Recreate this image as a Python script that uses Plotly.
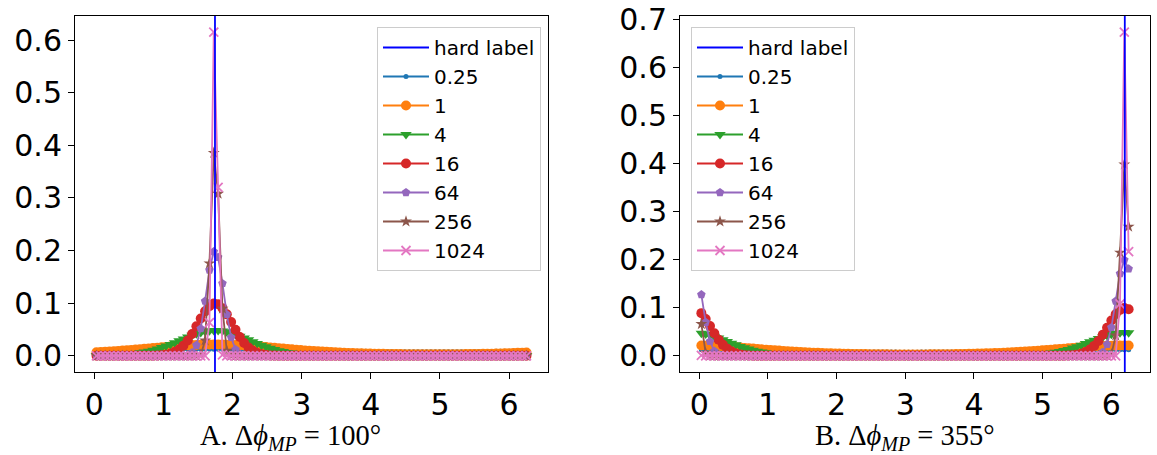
import numpy as np
import plotly.graph_objects as go
from plotly.subplots import make_subplots

# angle bins: 100 bins of 3.6 degrees, centre of each bin
n_bins = 100
bin_deg = 1.8 + 3.6 * np.arange(n_bins)
angle = np.deg2rad(bin_deg)

hard_label_deg = [100, 355]
captions = ["A. Δ<i>ϕ</i><sub><i>MP</i></sub> = 100°",
            "B. Δ<i>ϕ</i><sub><i>MP</i></sub> = 355°"]
temps = ["0.25", "1", "4", "16", "64", "256", "1024"]

# ---- panel A (hard label at 100 deg) ----
a_t025 = [
    0.00950, 0.00965, 0.00981, 0.00996, 0.01012, 0.01028, 0.01044, 0.01060, 0.01076, 0.01092,
    0.01107, 0.01123, 0.01138, 0.01152, 0.01166, 0.01179, 0.01191, 0.01203, 0.01214, 0.01224,
    0.01233, 0.01240, 0.01247, 0.01253, 0.01257, 0.01261, 0.01263, 0.01264, 0.01264, 0.01263,
    0.01260, 0.01255, 0.01251, 0.01244, 0.01237, 0.01228, 0.01219, 0.01209, 0.01197, 0.01185,
    0.01173, 0.01160, 0.01145, 0.01131, 0.01116, 0.01101, 0.01085, 0.01069, 0.01053, 0.01037,
    0.01021, 0.01005, 0.00989, 0.00974, 0.00958, 0.00944, 0.00929, 0.00915, 0.00903, 0.00889,
    0.00876, 0.00864, 0.00853, 0.00842, 0.00832, 0.00823, 0.00814, 0.00806, 0.00799, 0.00793,
    0.00787, 0.00782, 0.00778, 0.00774, 0.00771, 0.00769, 0.00768, 0.00767, 0.00767, 0.00768,
    0.00770, 0.00772, 0.00776, 0.00780, 0.00785, 0.00790, 0.00796, 0.00803, 0.00810, 0.00818,
    0.00827, 0.00836, 0.00846, 0.00857, 0.00869, 0.00881, 0.00894, 0.00907, 0.00920, 0.00935,
]
a_t1 = [
    0.00685, 0.00729, 0.00776, 0.00826, 0.00880, 0.00936, 0.00996, 0.01058, 0.01123, 0.01190,
    0.01259, 0.01330, 0.01402, 0.01474, 0.01546, 0.01618, 0.01688, 0.01755, 0.01820, 0.01881,
    0.01937, 0.01988, 0.02033, 0.02071, 0.02102, 0.02125, 0.02140, 0.02147, 0.02145, 0.02134,
    0.02116, 0.02089, 0.02055, 0.02014, 0.01966, 0.01913, 0.01854, 0.01792, 0.01726, 0.01657,
    0.01586, 0.01514, 0.01442, 0.01370, 0.01298, 0.01228, 0.01160, 0.01094, 0.01030, 0.00969,
    0.00911, 0.00856, 0.00804, 0.00755, 0.00709, 0.00666, 0.00626, 0.00590, 0.00556, 0.00524,
    0.00495, 0.00469, 0.00445, 0.00423, 0.00403, 0.00386, 0.00370, 0.00355, 0.00343, 0.00332,
    0.00322, 0.00314, 0.00307, 0.00301, 0.00297, 0.00294, 0.00292, 0.00291, 0.00291, 0.00292,
    0.00295, 0.00299, 0.00304, 0.00310, 0.00317, 0.00326, 0.00336, 0.00348, 0.00361, 0.00377,
    0.00393, 0.00412, 0.00433, 0.00455, 0.00481, 0.00508, 0.00538, 0.00570, 0.00606, 0.00644,
]
a_t4 = [
    0.00050, 0.00064, 0.00083, 0.00106, 0.00136, 0.00175, 0.00224, 0.00285, 0.00361, 0.00456,
    0.00572, 0.00711, 0.00878, 0.01073, 0.01300, 0.01557, 0.01845, 0.02159, 0.02495, 0.02847,
    0.03203, 0.03553, 0.03885, 0.04185, 0.04440, 0.04638, 0.04769, 0.04830, 0.04811, 0.04719,
    0.04557, 0.04332, 0.04056, 0.03741, 0.03399, 0.03045, 0.02689, 0.02344, 0.02016, 0.01713,
    0.01439, 0.01195, 0.00983, 0.00800, 0.00646, 0.00517, 0.00412, 0.00325, 0.00256, 0.00201,
    0.00157, 0.00122, 0.00095, 0.00074, 0.00057, 0.00045, 0.00035, 0.00027, 0.00022, 0.00017,
    0.00014, 0.00011, 0.00009, 0.00007, 0.00006, 0.00005, 0.00004, 0.00003, 0.00003, 0.00003,
    0.00002, 0.00002, 0.00002, 0.00002, 0.00002, 0.00002, 0.00002, 0.00002, 0.00002, 0.00002,
    0.00002, 0.00002, 0.00002, 0.00002, 0.00002, 0.00003, 0.00003, 0.00003, 0.00004, 0.00004,
    0.00005, 0.00006, 0.00008, 0.00010, 0.00012, 0.00015, 0.00019, 0.00024, 0.00031, 0.00039,
]
a_t16 = [
    0, 0, 0, 0, 0, 0, 0, 0, 0, 0,
    0, 0, 0.0001, 0.0002, 0.0005, 0.0011, 0.0021, 0.0040, 0.0071, 0.0120,
    0.0192, 0.0291, 0.0416, 0.0560, 0.0710, 0.0845, 0.0945, 0.0993, 0.0979, 0.0906,
    0.0788, 0.0644, 0.0495, 0.0358, 0.0244, 0.0157, 0.0096, 0.0055, 0.0030, 0.0016,
    0.0008, 0.0004, 0.0002, 0.0001, 0, 0, 0, 0, 0, 0,
    0, 0, 0, 0, 0, 0, 0, 0, 0, 0,
    0, 0, 0, 0, 0, 0, 0, 0, 0, 0,
    0, 0, 0, 0, 0, 0, 0, 0, 0, 0,
    0, 0, 0, 0, 0, 0, 0, 0, 0, 0,
    0, 0, 0, 0, 0, 0, 0, 0, 0, 0,
]
a_t64 = [
    0, 0, 0, 0, 0, 0, 0, 0, 0, 0,
    0, 0, 0, 0, 0, 0, 0, 0, 0, 0,
    0.0003, 0.0015, 0.0061, 0.0201, 0.0517, 0.1040, 0.1628, 0.1982, 0.1873, 0.1376,
    0.0786, 0.0350, 0.0122, 0.0033, 0.0007, 0.0001, 0, 0, 0, 0,
    0, 0, 0, 0, 0, 0, 0, 0, 0, 0,
    0, 0, 0, 0, 0, 0, 0, 0, 0, 0,
    0, 0, 0, 0, 0, 0, 0, 0, 0, 0,
    0, 0, 0, 0, 0, 0, 0, 0, 0, 0,
    0, 0, 0, 0, 0, 0, 0, 0, 0, 0,
    0, 0, 0, 0, 0, 0, 0, 0, 0, 0,
]
a_t256 = [
    0, 0, 0, 0, 0, 0, 0, 0, 0, 0,
    0, 0, 0, 0, 0, 0, 0, 0, 0, 0,
    0, 0, 0, 0, 0.0018, 0.0293, 0.1757, 0.3856, 0.3080, 0.0897,
    0.0096, 0.0004, 0, 0, 0, 0, 0, 0, 0, 0,
    0, 0, 0, 0, 0, 0, 0, 0, 0, 0,
    0, 0, 0, 0, 0, 0, 0, 0, 0, 0,
    0, 0, 0, 0, 0, 0, 0, 0, 0, 0,
    0, 0, 0, 0, 0, 0, 0, 0, 0, 0,
    0, 0, 0, 0, 0, 0, 0, 0, 0, 0,
    0, 0, 0, 0, 0, 0, 0, 0, 0, 0,
]
a_t1024 = [
    0, 0, 0, 0, 0, 0, 0, 0, 0, 0,
    0, 0, 0, 0, 0, 0, 0, 0, 0, 0,
    0, 0, 0, 0, 0, 0, 0.063, 0.615, 0.320, 0.002,
    0, 0, 0, 0, 0, 0, 0, 0, 0, 0,
    0, 0, 0, 0, 0, 0, 0, 0, 0, 0,
    0, 0, 0, 0, 0, 0, 0, 0, 0, 0,
    0, 0, 0, 0, 0, 0, 0, 0, 0, 0,
    0, 0, 0, 0, 0, 0, 0, 0, 0, 0,
    0, 0, 0, 0, 0, 0, 0, 0, 0, 0,
    0, 0, 0, 0, 0, 0, 0, 0, 0, 0,
]

# ---- panel B (hard label at 355 deg) ----
b_t025 = [
    0.01262, 0.01260, 0.01256, 0.01250, 0.01243, 0.01235, 0.01227, 0.01217, 0.01207, 0.01195,
    0.01183, 0.01170, 0.01156, 0.01143, 0.01128, 0.01113, 0.01097, 0.01082, 0.01066, 0.01050,
    0.01034, 0.01018, 0.01003, 0.00987, 0.00971, 0.00956, 0.00941, 0.00927, 0.00913, 0.00900,
    0.00886, 0.00874, 0.00862, 0.00851, 0.00840, 0.00830, 0.00821, 0.00813, 0.00805, 0.00798,
    0.00792, 0.00786, 0.00781, 0.00777, 0.00774, 0.00771, 0.00769, 0.00768, 0.00767, 0.00767,
    0.00768, 0.00770, 0.00773, 0.00776, 0.00780, 0.00785, 0.00791, 0.00797, 0.00804, 0.00812,
    0.00820, 0.00829, 0.00839, 0.00849, 0.00860, 0.00872, 0.00884, 0.00896, 0.00909, 0.00923,
    0.00937, 0.00952, 0.00968, 0.00983, 0.00999, 0.01015, 0.01031, 0.01047, 0.01063, 0.01078,
    0.01094, 0.01109, 0.01124, 0.01139, 0.01153, 0.01166, 0.01179, 0.01192, 0.01203, 0.01214,
    0.01223, 0.01232, 0.01240, 0.01246, 0.01252, 0.01257, 0.01260, 0.01263, 0.01264, 0.01264,
]
b_t1 = [
    0.02132, 0.02112, 0.02084, 0.02049, 0.02006, 0.01958, 0.01903, 0.01844, 0.01781, 0.01714,
    0.01645, 0.01574, 0.01502, 0.01430, 0.01358, 0.01287, 0.01217, 0.01149, 0.01083, 0.01020,
    0.00959, 0.00902, 0.00847, 0.00795, 0.00747, 0.00702, 0.00659, 0.00620, 0.00584, 0.00550,
    0.00519, 0.00491, 0.00465, 0.00441, 0.00420, 0.00400, 0.00383, 0.00367, 0.00353, 0.00341,
    0.00330, 0.00321, 0.00313, 0.00306, 0.00300, 0.00296, 0.00293, 0.00292, 0.00291, 0.00291,
    0.00293, 0.00295, 0.00299, 0.00304, 0.00311, 0.00319, 0.00328, 0.00338, 0.00350, 0.00364,
    0.00379, 0.00396, 0.00415, 0.00436, 0.00460, 0.00485, 0.00513, 0.00543, 0.00576, 0.00612,
    0.00650, 0.00692, 0.00737, 0.00784, 0.00835, 0.00889, 0.00946, 0.01006, 0.01069, 0.01134,
    0.01201, 0.01271, 0.01342, 0.01414, 0.01486, 0.01558, 0.01630, 0.01699, 0.01767, 0.01831,
    0.01891, 0.01946, 0.01996, 0.02040, 0.02077, 0.02106, 0.02128, 0.02142, 0.02147, 0.02144,
]
b_t4 = [
    0.04697, 0.04524, 0.04290, 0.04006, 0.03685, 0.03341, 0.02985, 0.02631, 0.02287, 0.01964,
    0.01665, 0.01396, 0.01158, 0.00950, 0.00772, 0.00623, 0.00498, 0.00396, 0.00313, 0.00246,
    0.00192, 0.00150, 0.00117, 0.00091, 0.00071, 0.00055, 0.00043, 0.00034, 0.00026, 0.00021,
    0.00016, 0.00013, 0.00010, 0.00008, 0.00007, 0.00006, 0.00005, 0.00004, 0.00003, 0.00003,
    0.00003, 0.00002, 0.00002, 0.00002, 0.00002, 0.00002, 0.00002, 0.00002, 0.00002, 0.00002,
    0.00002, 0.00002, 0.00002, 0.00002, 0.00002, 0.00002, 0.00003, 0.00003, 0.00003, 0.00004,
    0.00005, 0.00005, 0.00007, 0.00008, 0.00010, 0.00012, 0.00015, 0.00020, 0.00025, 0.00032,
    0.00041, 0.00052, 0.00066, 0.00085, 0.00109, 0.00140, 0.00180, 0.00231, 0.00294, 0.00372,
    0.00468, 0.00593, 0.00737, 0.00908, 0.01109, 0.01340, 0.01603, 0.01895, 0.02214, 0.02553,
    0.02906, 0.03262, 0.03610, 0.03938, 0.04231, 0.04477, 0.04664, 0.04784, 0.04831, 0.04801,
]
b_t16 = [
    0.0889, 0.0765, 0.0619, 0.0471, 0.0337, 0.0228, 0.0145, 0.0088, 0.0050, 0.0027,
    0.0014, 0.0007, 0.0003, 0.0001, 0.0001, 0, 0, 0, 0, 0,
    0, 0, 0, 0, 0, 0, 0, 0, 0, 0,
    0, 0, 0, 0, 0, 0, 0, 0, 0, 0,
    0, 0, 0, 0, 0, 0, 0, 0, 0, 0,
    0, 0, 0, 0, 0, 0, 0, 0, 0, 0,
    0, 0, 0, 0, 0, 0, 0, 0, 0, 0,
    0, 0, 0, 0, 0, 0, 0, 0, 0, 0,
    0, 0, 0.0001, 0.0001, 0.0003, 0.0006, 0.0012, 0.0024, 0.0044, 0.0078,
    0.0130, 0.0207, 0.0310, 0.0439, 0.0585, 0.0734, 0.0865, 0.0957, 0.0995, 0.0970,
]
b_t64 = [
    0.1276, 0.0699, 0.0299, 0.0100, 0.0026, 0.0005, 0.0001, 0, 0, 0,
    0, 0, 0, 0, 0, 0, 0, 0, 0, 0,
    0, 0, 0, 0, 0, 0, 0, 0, 0, 0,
    0, 0, 0, 0, 0, 0, 0, 0, 0, 0,
    0, 0, 0, 0, 0, 0, 0, 0, 0, 0,
    0, 0, 0, 0, 0, 0, 0, 0, 0, 0,
    0, 0, 0, 0, 0, 0, 0, 0, 0, 0,
    0, 0, 0, 0, 0, 0, 0, 0, 0, 0,
    0, 0, 0, 0, 0, 0, 0, 0, 0, 0,
    0.0001, 0.0004, 0.0019, 0.0076, 0.0239, 0.0591, 0.1140, 0.1712, 0.1998, 0.1811,
]
b_t256 = [
    0.0662, 0.0060, 0.0002, 0, 0, 0, 0, 0, 0, 0,
    0, 0, 0, 0, 0, 0, 0, 0, 0, 0,
    0, 0, 0, 0, 0, 0, 0, 0, 0, 0,
    0, 0, 0, 0, 0, 0, 0, 0, 0, 0,
    0, 0, 0, 0, 0, 0, 0, 0, 0, 0,
    0, 0, 0, 0, 0, 0, 0, 0, 0, 0,
    0, 0, 0, 0, 0, 0, 0, 0, 0, 0,
    0, 0, 0, 0, 0, 0, 0, 0, 0, 0,
    0, 0, 0, 0, 0, 0, 0, 0, 0, 0,
    0, 0, 0, 0, 0.0001, 0.0031, 0.0423, 0.2149, 0.3984, 0.2689,
]
b_t1024 = [
    0.001, 0, 0, 0, 0, 0, 0, 0, 0, 0,
    0, 0, 0, 0, 0, 0, 0, 0, 0, 0,
    0, 0, 0, 0, 0, 0, 0, 0, 0, 0,
    0, 0, 0, 0, 0, 0, 0, 0, 0, 0,
    0, 0, 0, 0, 0, 0, 0, 0, 0, 0,
    0, 0, 0, 0, 0, 0, 0, 0, 0, 0,
    0, 0, 0, 0, 0, 0, 0, 0, 0, 0,
    0, 0, 0, 0, 0, 0, 0, 0, 0, 0,
    0, 0, 0, 0, 0, 0, 0, 0, 0, 0,
    0, 0, 0, 0, 0, 0, 0, 0.108, 0.674, 0.217,
]

panels = [
    [a_t025, a_t1, a_t4, a_t16, a_t64, a_t256, a_t1024],
    [b_t025, b_t1, b_t4, b_t16, b_t64, b_t256, b_t1024],
]

# matplotlib tab10 colours + marker per temperature
colors = ['#1f77b4', '#ff7f0e', '#2ca02c', '#d62728', '#9467bd', '#8c564b', '#e377c2']
symbols = ['circle', 'circle', 'triangle-down', 'circle', 'pentagon', 'star', 'x-thin']
msizes = [5, 10, 10, 10, 9, 9, 9]

fig = make_subplots(rows=1, cols=2)

legend_names = ['legend', 'legend2']
for p, series in enumerate(panels):
    col = p + 1
    # legend entry for the hard label (the line itself is a shape below)
    fig.add_trace(go.Scatter(x=[None], y=[None], mode='lines', name='hard label',
                             line=dict(color='#0000ff', width=2),
                             legend=legend_names[p]), row=1, col=col)
    for k, vals in enumerate(series):
        marker = dict(symbol=symbols[k], size=msizes[k], color=colors[k])
        if symbols[k] == 'x-thin':
            marker['line'] = dict(color=colors[k], width=1.8)
        fig.add_trace(go.Scatter(
            x=angle, y=vals, mode='lines+markers', name=temps[k],
            line=dict(color=colors[k], width=1.8), marker=marker,
            legend=legend_names[p]), row=1, col=col)
    fig.add_vline(x=np.deg2rad(hard_label_deg[p]), line_color='#0000ff',
                  line_width=1.8, row=1, col=col)

# axis ranges like matplotlib's 5 % margins
xpad = 0.05 * (angle.max() - angle.min())
xrange = [angle.min() - xpad, angle.max() + xpad]

W, H = 1157, 455
tick_font = dict(family='DejaVu Sans', size=30, color='black')
axis_style = dict(showline=True, linecolor='black', linewidth=1, mirror=True,
                  ticks='outside', ticklen=6, tickcolor='black', showgrid=False,
                  zeroline=False, tickfont=tick_font, automargin=False)

dom_x = [[75 / W, 548 / W], [680 / W, 1150 / W]]
dom_y = [(H - 372) / H, (H - 16) / H]
for p, series in enumerate(panels):
    ymax = max(max(s) for s in series)
    ypad = 0.05 * ymax
    fig.update_xaxes(axis_style, domain=dom_x[p], range=xrange, dtick=1, tick0=0,
                     row=1, col=p + 1)
    fig.update_yaxes(axis_style, domain=dom_y, range=[-ypad, ymax + ypad], dtick=0.1,
                     tick0=0, tickformat='.1f', row=1, col=p + 1)

legend_style = dict(font=dict(family='DejaVu Sans', size=20, color='black'),
                    bgcolor='rgba(255,255,255,0.8)', bordercolor='#cccccc',
                    borderwidth=1, itemwidth=46, yanchor='top', tracegroupgap=0)

cap_font = dict(family='Liberation Serif', size=28.5, color='black')
fig.update_layout(
    width=W, height=H,
    margin=dict(l=0, r=0, t=0, b=0),
    paper_bgcolor='white', plot_bgcolor='white',
    legend=dict(legend_style, x=541 / W, xanchor='right', y=(H - 27) / H),
    legend2=dict(legend_style, x=691 / W, xanchor='left', y=(H - 27) / H),
    annotations=[
        dict(text=captions[0], x=290 / W, y=(H - 437) / H, xref='paper', yref='paper',
             showarrow=False, xanchor='center', yanchor='middle', font=cap_font),
        dict(text=captions[1], x=905 / W, y=(H - 437) / H, xref='paper', yref='paper',
             showarrow=False, xanchor='center', yanchor='middle', font=cap_font),
    ],
)

# drop the page's default 8px body margin so the figure sits at the window corner
fig.write_html("out.html", config={'displayModeBar': False},
               post_script="document.body.style.margin='0';")
